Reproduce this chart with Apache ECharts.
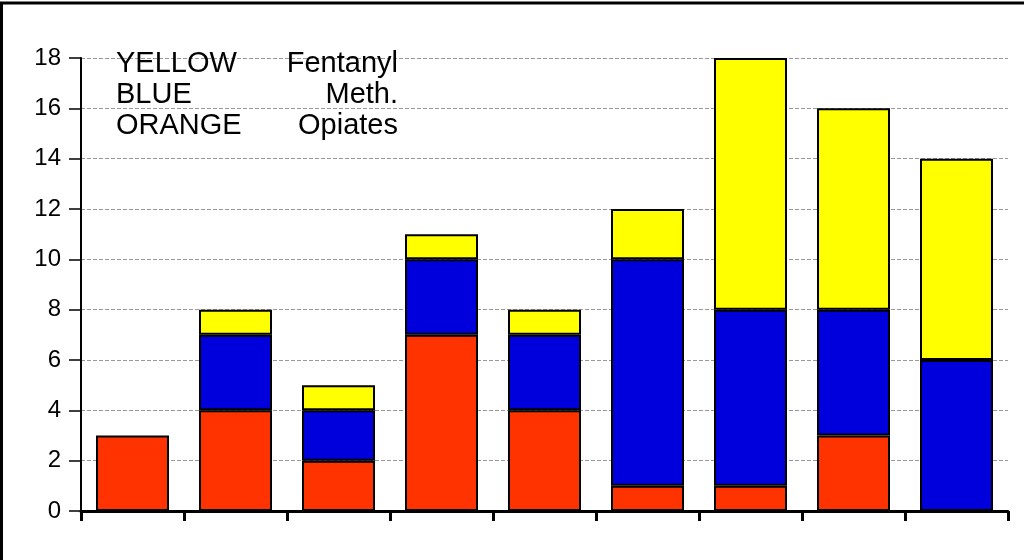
<!DOCTYPE html>
<html>
<head>
<meta charset="utf-8">
<script src="https://cdn.jsdelivr.net/npm/echarts@6/dist/echarts.min.js"></script>
<style>
html,body{margin:0;padding:0;background:#fff;}
#c{width:1024px;height:560px;}
</style>
</head>
<body>
<div id="c"></div>
<script>
const categories = ['1','2','3','4','5','6','7','8','9'];
const opiates  = [3, 4, 2, 7, 4, 1, 1, 3, null];
const meth     = [null, 3, 2, 3, 3, 9, 7, 5, 6];
const fentanyl = [null, 1, 1, 1, 1, 2, 10, 8, 8];
const yTicks = [0, 2, 4, 6, 8, 10, 12, 14, 16, 18];
const legendRows = [['YELLOW','Fentanyl'],['BLUE','Meth.'],['ORANGE','Opiates']];

const chart = echarts.init(document.getElementById('c'), null, {renderer:'canvas'});
const font = 'Liberation Sans, Arial, Helvetica, sans-serif';
const barBorder = {borderColor:'#000', borderWidth:2};
function mk(name, data, color){
  return {name, type:'bar', stack:'s', data, barWidth:73,
    itemStyle:Object.assign({color}, barBorder)};
}
const legendGraphics = [];
const rowY = [64, 95, 126];
legendRows.forEach((r,i)=>{
  legendGraphics.push({type:'text', x:116, y:rowY[i], z:10,
    style:{text:r[0], font:'29px '+font, fill:'#000', verticalAlign:'middle', align:'left'}});
  legendGraphics.push({type:'text', x:398, y:rowY[i], z:10,
    style:{text:r[1], font:'29px '+font, fill:'#000', verticalAlign:'middle', align:'right'}});
});
chart.setOption({
  animation:false,
  backgroundColor:'#fff',
  grid:{left:81, right:16, top:58, bottom:49, containLabel:false},
  xAxis:{type:'category', data:categories,
    axisLine:{lineStyle:{color:'#000', width:3}},
    axisTick:{show:true, length:10, lineStyle:{color:'#000', width:3}, alignWithLabel:false},
    axisLabel:{show:false}, splitLine:{show:false}},
  yAxis:{type:'value', min:yTicks[0], max:yTicks[yTicks.length-1], interval:2,
    axisLine:{show:true, lineStyle:{color:'#000', width:2}},
    axisTick:{show:true, length:12, lineStyle:{color:'#000', width:1.5}},
    axisLabel:{color:'#000', fontSize:24, fontFamily:font, margin:20},
    splitLine:{show:true, lineStyle:{color:'#999', type:[4,2], width:1}}},
  series:[
    mk('Opiates', opiates, '#FF3300'),
    mk('Meth.', meth, '#0000DD'),
    mk('Fentanyl', fentanyl, '#FFFF00')
  ],
  graphic:[
    {type:'line', shape:{x1:0, y1:3, x2:1024, y2:3}, style:{stroke:'#000', lineWidth:3}},
    {type:'line', shape:{x1:1.5, y1:2, x2:1.5, y2:560}, style:{stroke:'#000', lineWidth:3}}
  ].concat(legendGraphics)
});
</script>
</body>
</html>
